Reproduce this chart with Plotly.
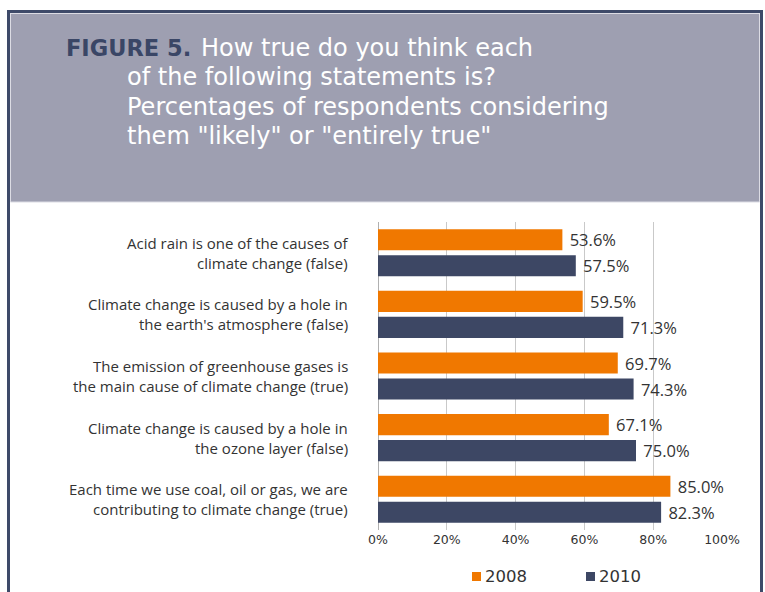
import plotly.graph_objects as go

# ---------------- data ----------------
categories = [
    "Acid rain is one of the causes of\nclimate change (false)",
    "Climate change is caused by a hole in\nthe earth's atmosphere (false)",
    "The emission of greenhouse gases is\nthe main cause of climate change (true)",
    "Climate change is caused by a hole in\nthe ozone layer (false)",
    "Each time we use coal, oil or gas, we are\ncontributing to climate change (true)",
]
series_names = ["2008", "2010"]
values_2008 = [53.6, 59.5, 69.7, 67.1, 85.0]
values_2010 = [57.5, 71.3, 74.3, 75.0, 82.3]
x_tick_values = [0, 20, 40, 60, 80, 100]
x_tick_labels = ["0%", "20%", "40%", "60%", "80%", "100%"]
title_lead = "FIGURE 5."
title_lines = [
    "How true do you think each",
    "of the following statements is?",
    "Percentages of respondents considering",
    "them \"likely\" or \"entirely true\"",
]

# ---------------- style ----------------
ORANGE = "#f07800"
NAVY = "#3d4764"
BORDER = "#3e4a69"
BAND = "#9e9fb1"
TEXT = "#333333"
FONT = "Open Sans"
TITLE_FONT = "DejaVu Sans"

W, H = 765, 592
L, R, T, B = 378, 722, 222, 530


def px(x):
    return (x - L) / (R - L)


def py(y):
    return (B - y) / (B - T)


series_colors = [ORANGE, NAVY]

fig = go.Figure()
for name, vals, col in zip(series_names, [values_2008, values_2010], series_colors):
    fig.add_trace(go.Bar(
        name=name, y=categories, x=vals, orientation="h",
        marker=dict(color=col, line=dict(width=0)),
        texttemplate="\u00a0%{x:.1f}%", textposition="outside",
        textfont=dict(family=FONT, size=16.5, color=TEXT),
        constraintext="none", cliponaxis=False, hoverinfo="skip",
        showlegend=False,
    ))

shapes = [
    # grey header band
    dict(type="rect", xref="paper", yref="paper",
         x0=px(10.5), x1=px(759.5), y0=py(202), y1=py(13.5),
         fillcolor=BAND, line=dict(color="#dcdce4", width=1), layer="below"),
    # dark frame
    dict(type="path", xref="paper", yref="paper",
         path=f"M{px(8.5)},{py(620)} L{px(8.5)},{py(11.5)} L{px(761.5)},{py(11.5)} L{px(761.5)},{py(620)}",
         line=dict(color=BORDER, width=3), layer="above"),
]

annotations = []
annotations.append(dict(
    text="<b>" + title_lead + "</b>", xref="paper", yref="paper",
    x=px(64), y=py(48), xanchor="left", yanchor="middle", showarrow=False,
    font=dict(family=TITLE_FONT, size=22.5, color="#3a4666")))
title_x = [199, 125, 125, 125]
title_y = [48, 77, 107, 136]
for txt, tx, ty in zip(title_lines, title_x, title_y):
    annotations.append(dict(
        text=txt, xref="paper", yref="paper", x=px(tx), y=py(ty),
        xanchor="left", yanchor="middle", showarrow=False,
        font=dict(family=TITLE_FONT, size=24, color="white")))

for cat in categories:
    l1, l2 = cat.split("\n")
    for line, shift in [(l1, 10), (l2, -10)]:
        annotations.append(dict(
            text=line, xref="paper", yref="y", x=px(350), y=cat,
            xanchor="right", yanchor="middle", yshift=shift, showarrow=False,
            font=dict(family=FONT, size=15, color=TEXT)))

# legend (drawn as swatches + labels)
legend_sq_x = [472, 586]
for name, col, sx in zip(series_names, series_colors, legend_sq_x):
    shapes.append(dict(type="rect", xref="paper", yref="paper",
                       x0=px(sx), x1=px(sx + 9), y0=py(581), y1=py(572),
                       fillcolor=col, line=dict(width=0)))
    annotations.append(dict(
        text=name, xref="paper", yref="paper", x=px(sx + 11), y=py(576.5),
        xanchor="left", yanchor="middle", showarrow=False,
        font=dict(family="DejaVu Sans", size=16.5, color=TEXT)))

fig.update_layout(
    width=W, height=H,
    margin=dict(l=L, r=W - R, t=T, b=H - B, pad=0, autoexpand=False),
    paper_bgcolor="white", plot_bgcolor="white",
    barmode="group", bargap=0.156, bargroupgap=0.19,
    showlegend=False,
    xaxis=dict(range=[0, 100], tickvals=x_tick_values, ticktext=x_tick_labels,
               showgrid=True, gridcolor="#c9c9c9", gridwidth=1,
               zeroline=True, zerolinecolor="#b0b0b0", zerolinewidth=1,
               showline=False, ticks="", fixedrange=True,
               tickfont=dict(family="DejaVu Sans", size=12.5, color=TEXT)),
    yaxis=dict(autorange="reversed", showticklabels=False, showgrid=False,
               zeroline=False, showline=False, ticks="", fixedrange=True),
    shapes=shapes, annotations=annotations,
)

fig.write_html("out.html")
